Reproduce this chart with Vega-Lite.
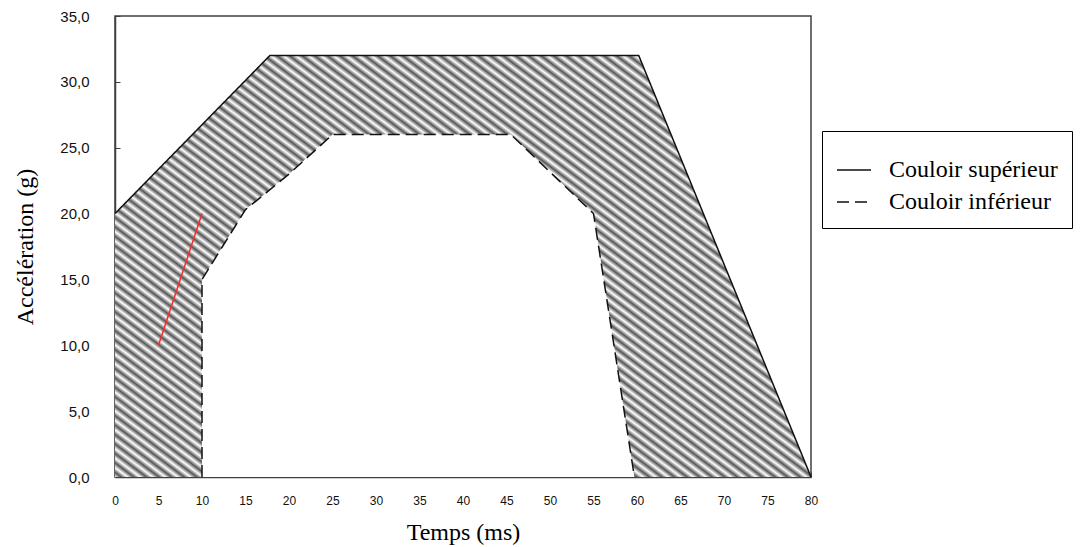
{
  "$schema": "https://vega.github.io/schema/vega-lite/v6.json",
  "width": 696,
  "height": 461,
  "autosize": {"type": "none"},
  "padding": {"left": 115, "top": 16, "right": 280, "bottom": 70},
  "background": "white",
  "config": {
    "view": {"stroke": "#404040", "strokeWidth": 1.5},
    "axis": {"grid": false, "domainColor": "#404040", "domainWidth": 1.5, "tickColor": "#404040", "tickWidth": 1, "labelFont": "Liberation Sans", "labelColor": "#111", "titleFont": "Liberation Serif", "titleFontWeight": "normal", "titleColor": "#000", "titleFontSize": 24, "zindex": 1}
  },
  "datasets": {
    "upper": [
      {"x": 0, "y": 20},
      {"x": 17.8, "y": 32},
      {"x": 60.2, "y": 32},
      {"x": 80, "y": 0}
    ],
    "lowerfill": [
      {"x": 10, "y": 15},
      {"x": 15, "y": 20.3},
      {"x": 20, "y": 23},
      {"x": 25, "y": 26},
      {"x": 45.5, "y": 26},
      {"x": 55, "y": 20},
      {"x": 59.7, "y": 0}
    ],
    "lines": [
      {"serie": "Couloir supérieur", "i": 1, "x": 0, "y": 20},
      {"serie": "Couloir supérieur", "i": 2, "x": 17.8, "y": 32},
      {"serie": "Couloir supérieur", "i": 3, "x": 60.2, "y": 32},
      {"serie": "Couloir supérieur", "i": 4, "x": 80, "y": 0},
      {"serie": "Couloir inférieur", "i": 1, "x": 10, "y": 0},
      {"serie": "Couloir inférieur", "i": 2, "x": 10, "y": 15},
      {"serie": "Couloir inférieur", "i": 3, "x": 15, "y": 20.3},
      {"serie": "Couloir inférieur", "i": 4, "x": 20, "y": 23},
      {"serie": "Couloir inférieur", "i": 5, "x": 25, "y": 26},
      {"serie": "Couloir inférieur", "i": 6, "x": 45.5, "y": 26},
      {"serie": "Couloir inférieur", "i": 7, "x": 55, "y": 20},
      {"serie": "Couloir inférieur", "i": 8, "x": 59.7, "y": 0}
    ],
    "red": [
      {"x": 5, "y": 10},
      {"x": 10, "y": 20}
    ]
  },
  "encoding": {
    "x": {"field": "x", "type": "quantitative", "scale": {"domain": [0, 80], "nice": false},
      "axis": {"values": [0,5,10,15,20,25,30,35,40,45,50,55,60,65,70,75,80], "title": "Temps (ms)", "labelFontSize": 12, "tickSize": -5, "labelPadding": 23, "titlePadding": 14, "labelFlush": false}},
    "y": {"field": "y", "type": "quantitative", "scale": {"domain": [0, 35], "nice": false},
      "axis": {"values": [0,5,10,15,20,25,30,35], "title": "Accélération (g)", "labelFontSize": 15, "tickSize": -5, "labelPadding": 31, "titlePadding": 22, "labelExpr": "replace(format(datum.value, '.1f'), '.', ',')"}}
  },
  "layer": [
    {
      "data": {"name": "upper"},
      "mark": {"type": "area", "fill": {"gradient": "linear", "x1": 0, "y1": 1, "x2": 1.0946, "y2": 0.1172, "stops": [
        {"offset":0,"color":"#fff"},{"offset":0.005,"color":"#555"},{"offset":0.01,"color":"#fff"},{"offset":0.015,"color":"#555"},{"offset":0.02,"color":"#fff"},{"offset":0.025,"color":"#555"},{"offset":0.03,"color":"#fff"},{"offset":0.035,"color":"#555"},{"offset":0.04,"color":"#fff"},{"offset":0.045,"color":"#555"},
        {"offset":0.05,"color":"#fff"},{"offset":0.055,"color":"#555"},{"offset":0.06,"color":"#fff"},{"offset":0.065,"color":"#555"},{"offset":0.07,"color":"#fff"},{"offset":0.075,"color":"#555"},{"offset":0.08,"color":"#fff"},{"offset":0.085,"color":"#555"},{"offset":0.09,"color":"#fff"},{"offset":0.095,"color":"#555"},
        {"offset":0.1,"color":"#fff"},{"offset":0.105,"color":"#555"},{"offset":0.11,"color":"#fff"},{"offset":0.115,"color":"#555"},{"offset":0.12,"color":"#fff"},{"offset":0.125,"color":"#555"},{"offset":0.13,"color":"#fff"},{"offset":0.135,"color":"#555"},{"offset":0.14,"color":"#fff"},{"offset":0.145,"color":"#555"},
        {"offset":0.15,"color":"#fff"},{"offset":0.155,"color":"#555"},{"offset":0.16,"color":"#fff"},{"offset":0.165,"color":"#555"},{"offset":0.17,"color":"#fff"},{"offset":0.175,"color":"#555"},{"offset":0.18,"color":"#fff"},{"offset":0.185,"color":"#555"},{"offset":0.19,"color":"#fff"},{"offset":0.195,"color":"#555"},
        {"offset":0.2,"color":"#fff"},{"offset":0.205,"color":"#555"},{"offset":0.21,"color":"#fff"},{"offset":0.215,"color":"#555"},{"offset":0.22,"color":"#fff"},{"offset":0.225,"color":"#555"},{"offset":0.23,"color":"#fff"},{"offset":0.235,"color":"#555"},{"offset":0.24,"color":"#fff"},{"offset":0.245,"color":"#555"},
        {"offset":0.25,"color":"#fff"},{"offset":0.255,"color":"#555"},{"offset":0.26,"color":"#fff"},{"offset":0.265,"color":"#555"},{"offset":0.27,"color":"#fff"},{"offset":0.275,"color":"#555"},{"offset":0.28,"color":"#fff"},{"offset":0.285,"color":"#555"},{"offset":0.29,"color":"#fff"},{"offset":0.295,"color":"#555"},
        {"offset":0.3,"color":"#fff"},{"offset":0.305,"color":"#555"},{"offset":0.31,"color":"#fff"},{"offset":0.315,"color":"#555"},{"offset":0.32,"color":"#fff"},{"offset":0.325,"color":"#555"},{"offset":0.33,"color":"#fff"},{"offset":0.335,"color":"#555"},{"offset":0.34,"color":"#fff"},{"offset":0.345,"color":"#555"},
        {"offset":0.35,"color":"#fff"},{"offset":0.355,"color":"#555"},{"offset":0.36,"color":"#fff"},{"offset":0.365,"color":"#555"},{"offset":0.37,"color":"#fff"},{"offset":0.375,"color":"#555"},{"offset":0.38,"color":"#fff"},{"offset":0.385,"color":"#555"},{"offset":0.39,"color":"#fff"},{"offset":0.395,"color":"#555"},
        {"offset":0.4,"color":"#fff"},{"offset":0.405,"color":"#555"},{"offset":0.41,"color":"#fff"},{"offset":0.415,"color":"#555"},{"offset":0.42,"color":"#fff"},{"offset":0.425,"color":"#555"},{"offset":0.43,"color":"#fff"},{"offset":0.435,"color":"#555"},{"offset":0.44,"color":"#fff"},{"offset":0.445,"color":"#555"},
        {"offset":0.45,"color":"#fff"},{"offset":0.455,"color":"#555"},{"offset":0.46,"color":"#fff"},{"offset":0.465,"color":"#555"},{"offset":0.47,"color":"#fff"},{"offset":0.475,"color":"#555"},{"offset":0.48,"color":"#fff"},{"offset":0.485,"color":"#555"},{"offset":0.49,"color":"#fff"},{"offset":0.495,"color":"#555"},
        {"offset":0.5,"color":"#fff"},{"offset":0.505,"color":"#555"},{"offset":0.51,"color":"#fff"},{"offset":0.515,"color":"#555"},{"offset":0.52,"color":"#fff"},{"offset":0.525,"color":"#555"},{"offset":0.53,"color":"#fff"},{"offset":0.535,"color":"#555"},{"offset":0.54,"color":"#fff"},{"offset":0.545,"color":"#555"},
        {"offset":0.55,"color":"#fff"},{"offset":0.555,"color":"#555"},{"offset":0.56,"color":"#fff"},{"offset":0.565,"color":"#555"},{"offset":0.57,"color":"#fff"},{"offset":0.575,"color":"#555"},{"offset":0.58,"color":"#fff"},{"offset":0.585,"color":"#555"},{"offset":0.59,"color":"#fff"},{"offset":0.595,"color":"#555"},
        {"offset":0.6,"color":"#fff"},{"offset":0.605,"color":"#555"},{"offset":0.61,"color":"#fff"},{"offset":0.615,"color":"#555"},{"offset":0.62,"color":"#fff"},{"offset":0.625,"color":"#555"},{"offset":0.63,"color":"#fff"},{"offset":0.635,"color":"#555"},{"offset":0.64,"color":"#fff"},{"offset":0.645,"color":"#555"},
        {"offset":0.65,"color":"#fff"},{"offset":0.655,"color":"#555"},{"offset":0.66,"color":"#fff"},{"offset":0.665,"color":"#555"},{"offset":0.67,"color":"#fff"},{"offset":0.675,"color":"#555"},{"offset":0.68,"color":"#fff"},{"offset":0.685,"color":"#555"},{"offset":0.69,"color":"#fff"},{"offset":0.695,"color":"#555"},
        {"offset":0.7,"color":"#fff"},{"offset":0.705,"color":"#555"},{"offset":0.71,"color":"#fff"},{"offset":0.715,"color":"#555"},{"offset":0.72,"color":"#fff"},{"offset":0.725,"color":"#555"},{"offset":0.73,"color":"#fff"},{"offset":0.735,"color":"#555"},{"offset":0.74,"color":"#fff"},{"offset":0.745,"color":"#555"},
        {"offset":0.75,"color":"#fff"},{"offset":0.755,"color":"#555"},{"offset":0.76,"color":"#fff"},{"offset":0.765,"color":"#555"},{"offset":0.77,"color":"#fff"},{"offset":0.775,"color":"#555"},{"offset":0.78,"color":"#fff"},{"offset":0.785,"color":"#555"},{"offset":0.79,"color":"#fff"},{"offset":0.795,"color":"#555"},
        {"offset":0.8,"color":"#fff"},{"offset":0.805,"color":"#555"},{"offset":0.81,"color":"#fff"},{"offset":0.815,"color":"#555"},{"offset":0.82,"color":"#fff"},{"offset":0.825,"color":"#555"},{"offset":0.83,"color":"#fff"},{"offset":0.835,"color":"#555"},{"offset":0.84,"color":"#fff"},{"offset":0.845,"color":"#555"},
        {"offset":0.85,"color":"#fff"},{"offset":0.855,"color":"#555"},{"offset":0.86,"color":"#fff"},{"offset":0.865,"color":"#555"},{"offset":0.87,"color":"#fff"},{"offset":0.875,"color":"#555"},{"offset":0.88,"color":"#fff"},{"offset":0.885,"color":"#555"},{"offset":0.89,"color":"#fff"},{"offset":0.895,"color":"#555"},
        {"offset":0.9,"color":"#fff"},{"offset":0.905,"color":"#555"},{"offset":0.91,"color":"#fff"},{"offset":0.915,"color":"#555"},{"offset":0.92,"color":"#fff"},{"offset":0.925,"color":"#555"},{"offset":0.93,"color":"#fff"},{"offset":0.935,"color":"#555"},{"offset":0.94,"color":"#fff"},{"offset":0.945,"color":"#555"},
        {"offset":0.95,"color":"#fff"},{"offset":0.955,"color":"#555"},{"offset":0.96,"color":"#fff"},{"offset":0.965,"color":"#555"},{"offset":0.97,"color":"#fff"},{"offset":0.975,"color":"#555"},{"offset":0.98,"color":"#fff"},{"offset":0.985,"color":"#555"},{"offset":0.99,"color":"#fff"},{"offset":0.995,"color":"#555"},
        {"offset":1,"color":"#fff"}
      ]}},
      "encoding": {"y2": {"datum": 0}}
    },
    {
      "data": {"name": "lowerfill"},
      "mark": {"type": "area", "fill": "white"},
      "encoding": {"y2": {"datum": 0}}
    },
    {
      "data": {"name": "lines"},
      "mark": {"type": "line", "strokeWidth": 1.5},
      "encoding": {
        "order": {"field": "i", "type": "quantitative"},
        "color": {"field": "serie", "type": "nominal", "scale": {"domain": ["Couloir supérieur", "Couloir inférieur"], "range": ["#111", "#111"]},
          "legend": {"title": " ", "orient": "none", "legendX": 707, "legendY": 115, "strokeColor": "#000", "padding": 14, "titleFontSize": 7, "titlePadding": 0, "labelFont": "Liberation Serif", "labelFontSize": 24, "labelColor": "#000", "labelOffset": 17, "symbolType": "stroke", "symbolSize": 1156, "symbolStrokeWidth": 1.5, "rowPadding": 2, "labelLimit": 400}},
        "strokeDash": {"field": "serie", "type": "nominal", "scale": {"domain": ["Couloir supérieur", "Couloir inférieur"], "range": [[1, 0], [12, 6]]},
          "legend": {"title": " ", "orient": "none", "legendX": 707, "legendY": 115, "strokeColor": "#000", "padding": 14, "titleFontSize": 7, "titlePadding": 0, "labelFont": "Liberation Serif", "labelFontSize": 24, "labelColor": "#000", "labelOffset": 17, "symbolType": "stroke", "symbolSize": 1156, "symbolStrokeWidth": 1.5, "rowPadding": 2, "labelLimit": 400}}
      }
    },
    {
      "data": {"name": "red"},
      "mark": {"type": "line", "strokeWidth": 1.5, "color": "#ff2a2a"},
      "encoding": {}
    }
  ]
}
